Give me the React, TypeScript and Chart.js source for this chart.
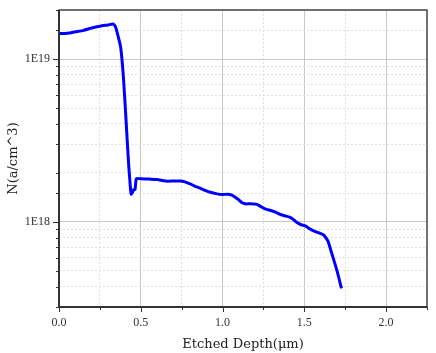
import React, { useEffect, useRef } from 'react';
import { Chart, registerables } from 'chart.js';

Chart.register(...registerables);

// Etched depth (µm)
const depth = [
  0, 0.05, 0.1, 0.15, 0.2, 0.25, 0.3, 0.33, 0.345, 0.36, 0.377, 0.394, 0.41, 0.424, 0.435,
  0.441, 0.45, 0.457, 0.465, 0.473, 0.5, 0.55, 0.6, 0.65, 0.7, 0.741, 0.77, 0.802, 0.83,
  0.863, 0.9, 0.925, 0.96, 0.996, 1.03, 1.057, 1.08, 1.098, 1.12, 1.139, 1.17, 1.21, 1.235,
  1.26, 1.3, 1.33, 1.352, 1.38, 1.41, 1.43, 1.455, 1.48, 1.506, 1.53, 1.557, 1.59, 1.618,
  1.635, 1.645, 1.67, 1.7, 1.727,
];

// Concentration N (a/cm^3)
const concentration = [
  1.43e19, 1.44e19, 1.47e19, 1.5e19, 1.55e19, 1.59e19, 1.62e19, 1.64e19, 1.58e19, 1.4e19,
  1.18e19, 7.7e18, 4.2e18, 2.4e18, 1.7e18, 1.48e18, 1.52e18, 1.58e18, 1.58e18, 1.84e18,
  1.84e18, 1.83e18, 1.82e18, 1.78e18, 1.78e18, 1.78e18, 1.76e18, 1.71e18, 1.66e18, 1.61e18,
  1.55e18, 1.52e18, 1.49e18, 1.47e18, 1.48e18, 1.46e18, 1.41e18, 1.37e18, 1.31e18, 1.29e18,
  1.29e18, 1.28e18, 1.24e18, 1.2e18, 1.17e18, 1.14e18, 1.11e18, 1.09e18, 1.07e18, 1.04e18,
  0.99e18, 0.96e18, 0.945e18, 0.91e18, 0.88e18, 0.855e18, 0.83e18, 0.79e18, 0.76e18, 0.63e18,
  0.5e18, 0.39e18,
];

const xMajorTicks = [0, 0.5, 1.0, 1.5, 2.0];
const xTickLabels = ['0.0', '0.5', '1.0', '1.5', '2.0'];
const yMajorTicks = [1e18, 1e19];
const yTickLabels = ['1E18', '1E19'];
const xRange = [0, 2.25];
const yRange = [3e17, 2e19];

const xTitle = 'Etched Depth(μm)';
const yTitle = 'N(a/cm^3)';

const tickFont = { family: '"Liberation Serif", serif', size: 12 };
const titleFont = { family: '"DejaVu Serif", serif', size: 13 };

const xMajorIndex = (v: number) => xMajorTicks.findIndex((m) => Math.abs(m - v) < 1e-6);
const yMajorIndex = (v: number) => yMajorTicks.findIndex((m) => Math.abs(m - v) / m < 1e-6);

const framePlugin = {
  id: 'frame',
  afterDraw(chart: any) {
    const { ctx, chartArea, scales } = chart;
    const { left, right, top, bottom } = chartArea;
    const x = scales.x;
    const y = scales.y;
    ctx.save();
    ctx.strokeStyle = '#333';
    ctx.lineWidth = 1;
    x.ticks.forEach((t: any) => {
      const px = Math.round(x.getPixelForValue(t.value)) + 0.5;
      const len = xMajorIndex(t.value) >= 0 ? 5 : 3;
      ctx.beginPath();
      ctx.moveTo(px, bottom);
      ctx.lineTo(px, bottom + len);
      ctx.stroke();
    });
    y.ticks.forEach((t: any) => {
      const py = Math.round(y.getPixelForValue(t.value)) + 0.5;
      const len = yMajorIndex(t.value) >= 0 ? 6 : 3;
      ctx.beginPath();
      ctx.moveTo(left, py);
      ctx.lineTo(left - len, py);
      ctx.stroke();
    });
    ctx.lineWidth = 1.5;
    ctx.strokeStyle = '#444';
    ctx.strokeRect(left, top, right - left, bottom - top);
    ctx.lineWidth = 2;
    ctx.strokeStyle = '#333';
    ctx.beginPath();
    ctx.moveTo(left, top);
    ctx.lineTo(left, bottom);
    ctx.lineTo(right, bottom);
    ctx.stroke();
    ctx.restore();
  },
};

export default function App() {
  const ref = useRef<HTMLCanvasElement>(null);

  useEffect(() => {
    if (!ref.current) return;
    const chart = new Chart(ref.current, {
      type: 'line',
      data: {
        datasets: [
          {
            data: depth.map((d, i) => ({ x: d, y: concentration[i] })),
            borderColor: '#0000ff',
            borderWidth: 3,
            pointRadius: 0,
            tension: 0.2,
            fill: false,
          },
        ],
      },
      options: {
        animation: false,
        responsive: false,
        layout: { padding: { left: 0, right: 9, top: 10, bottom: 0 } },
        plugins: { legend: { display: false }, tooltip: { enabled: false } },
        scales: {
          x: {
            type: 'linear',
            min: xRange[0],
            max: xRange[1],
            afterFit: (s: any) => {
              s.height = 46;
              s.paddingLeft = 0;
              s.paddingRight = 0;
            },
            ticks: {
              stepSize: 0.25,
              autoSkip: false,
              maxRotation: 0,
              padding: 9,
              color: '#333',
              font: tickFont,
              callback: (v: any) => {
                const i = xMajorIndex(Number(v));
                return i >= 0 ? xTickLabels[i] : '';
              },
            },
            grid: {
              drawTicks: false,
              color: (c: any) => (c.tick && xMajorIndex(c.tick.value) >= 0 ? '#c8c8c8' : '#e0e0e0'),
              lineWidth: 1,
            },
            border: {
              display: false,
              dash: (c: any) => (c.tick && xMajorIndex(c.tick.value) >= 0 ? [] : [2, 2]),
            },
            title: {
              display: true,
              text: xTitle,
              color: '#222',
              font: titleFont,
              padding: { top: 0, bottom: 1 },
            },
          },
          y: {
            type: 'logarithmic',
            min: yRange[0],
            max: yRange[1],
            afterFit: (s: any) => {
              s.width = 59;
              s.paddingTop = 0;
              s.paddingBottom = 0;
            },
            ticks: {
              autoSkip: false,
              padding: 9,
              color: '#333',
              font: tickFont,
              callback: (v: any) => {
                const i = yMajorIndex(Number(v));
                return i >= 0 ? yTickLabels[i] : '';
              },
            },
            grid: {
              drawTicks: false,
              color: (c: any) => (c.tick && yMajorIndex(c.tick.value) >= 0 ? '#c8c8c8' : '#e0e0e0'),
              lineWidth: 1,
            },
            border: {
              display: false,
              dash: (c: any) => (c.tick && yMajorIndex(c.tick.value) >= 0 ? [] : [2, 2]),
            },
            title: {
              display: true,
              text: yTitle,
              color: '#222',
              font: titleFont,
              padding: { top: 6, bottom: 0 },
            },
          },
        },
      },
      plugins: [framePlugin],
    } as any);
    return () => chart.destroy();
  }, []);

  return (
    <div style={{ position: 'fixed', left: 0, top: 0, width: 436, height: 353, background: '#fff' }}>
      <canvas ref={ref} width={436} height={353} style={{ display: 'block' }} />
    </div>
  );
}
